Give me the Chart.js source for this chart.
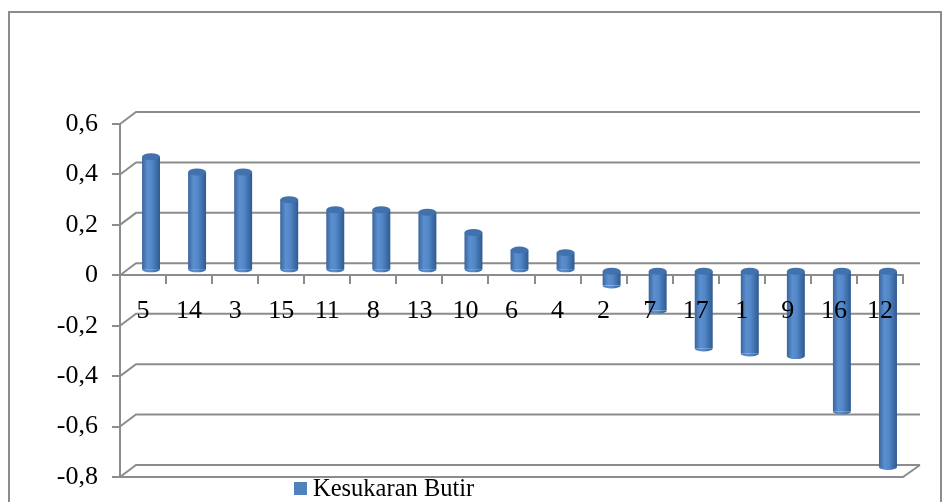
<!DOCTYPE html>
<html>
<head>
<meta charset="utf-8">
<script src="https://cdn.jsdelivr.net/npm/chart.js@4.4.1/dist/chart.umd.min.js"></script>
<style>
    html, body { margin: 0; padding: 0; background: #fff; }
    #wrap { position: relative; width: 944px; height: 502px; overflow: hidden; }
    #frame { position: absolute; left: 8px; top: 11px; width: 930px; height: 500px; border: 2px solid #8c8c8c; }
    #chart { position: absolute; left: 0; top: 0; }
    #legend { position: absolute; left: 294px; top: 474px; font-family: 'Liberation Serif', 'Times New Roman', serif; font-size: 24.5px; color: #000; white-space: nowrap; }
    #legend span.box { display: inline-block; width: 13px; height: 13px; background: #4f81bd; margin-right: 6px; vertical-align: 1px; }
</style>
</head>
<body>
<div id="wrap">
    <div id="frame"></div>
    <canvas id="chart" width="944" height="502"></canvas>
    <div id="legend"><span class="box"></span>Kesukaran Butir</div>
</div>
<script>
// Data - kesukaran butir (urut dari terbesar)
var categories = ['5', '14', '3', '15', '11', '8', '13', '10', '6', '4', '2', '7', '17', '1', '9', '16', '12'];
var kesukaran = [0.45, 0.39, 0.39, 0.28, 0.24, 0.24, 0.23, 0.15, 0.08, 0.07, -0.06, -0.16, -0.31, -0.33, -0.34, -0.56, -0.78];
var yTicks = [-0.8, -0.6, -0.4, -0.2, 0, 0.2, 0.4, 0.6];
var seriesName = 'Kesukaran Butir';

var GRID = '#8c8c8c';
var FONT = "'Liberation Serif', 'Times New Roman', serif";
var BAR_PCT = 0.39;
var DEPTH_X = 16, DEPTH_Y = 12;

function barGradient(c) {
    var chart = c.chart;
    var xs = chart.scales.x;
    if (!xs || c.dataIndex === undefined) return '#4f81bd';
    var cx = xs.getPixelForValue(c.dataIndex);
    var w = xs.width / categories.length * BAR_PCT;
    if (!isFinite(cx) || !isFinite(w) || w <= 0) return '#4f81bd';
    var g = chart.ctx.createLinearGradient(cx - w / 2, 0, cx + w / 2, 0);
    g.addColorStop(0, '#3a659c');
    g.addColorStop(0.3, '#5b8fd0');
    g.addColorStop(0.55, '#5287c8');
    g.addColorStop(1, '#2e5a90');
    return g;
}

// dinding belakang 3D + garis grid
var backWall = {
    id: 'backWall',
    beforeDatasetsDraw: function(chart) {
        var ctx = chart.ctx, a = chart.chartArea, ys = chart.scales.y;
        ctx.save();
        ctx.strokeStyle = GRID;
        ctx.lineWidth = 2;
        for (var i = 0; i < ys.ticks.length; i++) {
            var py = ys.getPixelForTick(i);
            ctx.beginPath();
            ctx.moveTo(a.left, py);
            ctx.lineTo(a.left + DEPTH_X, py - DEPTH_Y);
            ctx.lineTo(a.right + DEPTH_X + 1, py - DEPTH_Y);
            ctx.stroke();
        }
        // lantai depan
        ctx.beginPath();
        ctx.moveTo(a.left, a.bottom);
        ctx.lineTo(a.right, a.bottom);
        ctx.lineTo(a.right + DEPTH_X + 1, a.bottom - DEPTH_Y);
        ctx.stroke();
        ctx.restore();

        // batang di tengah kedalaman
        ctx.save();
        ctx.translate(DEPTH_X / 2, -DEPTH_Y / 2 + 1);
    },
    afterDatasetsDraw: function(chart) {
        var ctx = chart.ctx;
        var meta = chart.getDatasetMeta(0);
        for (var i = 0; i < meta.data.length; i++) {
            var bar = meta.data[i];
            var top = Math.min(bar.y, bar.base);
            var bottom = Math.max(bar.y, bar.base);
            var rx = bar.width / 2;
            ctx.fillStyle = barGradient({ chart: chart, dataIndex: i });
            ctx.beginPath();
            ctx.ellipse(bar.x, bottom, rx, 3, 0, 0, Math.PI);
            ctx.fill();
            ctx.fillStyle = '#4272ad';
            ctx.beginPath();
            ctx.ellipse(bar.x, top, rx, 3.5, 0, 0, Math.PI * 2);
            ctx.fill();
        }
        ctx.restore();
    }
};

function formatKoma(v) {
    if (Math.abs(v) < 1e-9) return '0';
    return v.toFixed(1).replace('.', ',');
}

var ctx = document.getElementById('chart');
var chart = new Chart(ctx, {
    type: 'bar',
    data: {
        labels: categories,
        datasets: [{
            label: seriesName,
            data: kesukaran,
            backgroundColor: barGradient,
            borderWidth: 0,
            barPercentage: BAR_PCT,
            categoryPercentage: 1
        }]
    },
    options: {
        responsive: false,
        animation: false,
        layout: { padding: { left: 0, right: 41, top: 124, bottom: 25 } },
        plugins: {
            legend: { display: false },
            tooltip: { enabled: false }
        },
        scales: {
            x: {
                position: { y: 0 },
                offset: true,
                grid: { display: true, drawOnChartArea: false, drawTicks: true, tickLength: 8, offset: true, color: GRID, lineWidth: 2 },
                border: { display: true, color: GRID, width: 2 },
                ticks: { z: 1, color: '#000', padding: 12, maxRotation: 0, autoSkip: false, font: { family: FONT, size: 26 } }
            },
            y: {
                min: -0.8,
                max: 0.6,
                afterFit: function(scale) {
                    scale.width = 120;
                    scale.paddingTop = 0;
                    scale.paddingBottom = 0;
                },
                afterBuildTicks: function(scale) {
                    scale.ticks = yTicks.map(function(v) { return { value: v }; });
                },
                grid: { display: true, drawOnChartArea: false, drawTicks: true, tickLength: 8, color: GRID, lineWidth: 2 },
                border: { display: true, color: GRID, width: 2 },
                ticks: { color: '#000', padding: 14, callback: formatKoma, font: { family: FONT, size: 26 } }
            }
        }
    },
    plugins: [backWall]
});
chart.update();
</script>
</body>
</html>
